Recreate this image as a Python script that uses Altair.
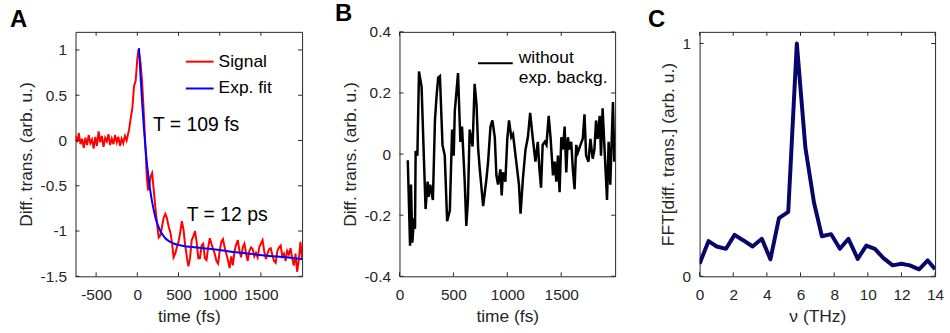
import altair as alt
import pandas as pd

FONT = "Liberation Sans"
AX = "#262626"

# ---------------- Panel A data ----------------
sig_t = [
    -750, -730, -710, -690, -670, -650, -630, -610, -590, -570,
    -550, -530, -510, -490, -470, -450, -430, -410, -390, -370,
    -350, -330, -310, -290, -270, -250, -230, -210, -190, -170,
    -150, -130,
    -100, -80, -60, -40, -20, 0, 15, 40, 60, 80, 100, 115, 130, 145, 160, 180,
    200, 220, 240, 260, 280, 300, 320, 340, 360, 380,
    400, 420, 440, 460, 480, 500, 520, 540, 560, 580,
    600, 620, 640, 660, 680, 700, 720, 740, 760, 780,
    800, 820, 840, 860, 880, 900, 920, 940, 960, 980,
    1000, 1020, 1040, 1060, 1080, 1100, 1120, 1140, 1160, 1180,
    1200, 1220, 1240, 1260, 1280, 1300, 1320, 1340, 1360, 1380,
    1400, 1420, 1440, 1460, 1480, 1500, 1520, 1540, 1560, 1580,
    1600, 1620, 1640, 1660, 1680, 1700, 1720, 1740, 1760, 1780,
    1800, 1820, 1840, 1860, 1880, 1900, 1920, 1940, 1960, 1980,
    2000,
]
sig_v = [
    0.05, -0.02, 0.08, -0.04, 0.02, -0.08, 0.03, -0.05, 0.06, -0.03,
    0.01, -0.09, 0.04, -0.06, 0.10, -0.02, 0.05, -0.07, 0.03, -0.01,
    0.07, -0.05, 0.02, -0.04, 0.06, -0.02, 0.04, -0.06, 0.02, -0.03,
    0.05, 0.00,
    0.12, 0.25, 0.36, 0.60, 0.66, 0.90, 1.01, 0.85, 0.62, 0.28, -0.10, -0.40, -0.55, -0.50, -0.40, -0.36,
    -0.55, -0.75, -0.92, -1.07, -1.05, -0.95, -0.85, -0.81, -0.86, -0.95,
    -1.01, -1.12, -1.29, -1.25, -1.18, -1.12, -1.02, -0.89, -0.98, -1.15,
    -1.28, -1.39, -1.30, -1.10, -1.06, -1.00, -1.12, -1.30, -1.30, -1.16,
    -1.14, -1.30, -1.32, -1.18, -1.08, -1.14, -1.20, -1.25, -1.33, -1.36,
    -1.22, -1.12, -1.09, -1.18, -1.25, -1.32, -1.41, -1.28, -1.38, -1.22,
    -1.15, -1.10, -1.22, -1.29, -1.18, -1.14, -1.25, -1.33, -1.22, -1.18,
    -1.20, -1.28, -1.24, -1.29, -1.18, -1.14, -1.10, -1.22, -1.31, -1.25,
    -1.20, -1.19, -1.27, -1.33, -1.35, -1.22, -1.18, -1.16, -1.28, -1.25,
    -1.33, -1.22, -1.26, -1.19, -1.30, -1.38, -1.25, -1.45, -1.32, -1.12,
    -1.30,
]
fit_t = [20, 40, 60, 80, 100, 120, 140, 160, 180, 200, 220, 240, 270, 300,
         340, 400, 450, 500, 600, 700, 800, 1000, 1200, 1400, 1600, 1800, 2000]
fit_v = [1.02, 0.70, 0.40, 0.14, -0.09, -0.28, -0.44, -0.57, -0.68, -0.77,
         -0.85, -0.91, -0.98, -1.03, -1.08, -1.12, -1.14, -1.155, -1.17,
         -1.18, -1.19, -1.21, -1.235, -1.255, -1.275, -1.29, -1.31]
ann_t = [190, 600]
ann_v = [0.17, -0.82]
ann_text = ["T = 109 fs", "T = 12 ps"]

# ---------------- Panel B data ----------------
b_t = [77, 98, 107, 119, 135, 144, 150, 166, 181, 205,
       242, 261, 270, 285, 310, 329, 344, 359, 375, 399,
       420, 442, 467, 488, 503, 513, 543, 565, 580, 605,
       620, 635, 651, 678, 697, 715, 730, 745, 776, 807,
       822, 844, 862, 884, 899, 914, 936, 948, 960, 982,
       1000, 1016, 1037, 1053, 1083, 1108, 1123, 1145, 1169, 1191,
       1212, 1237, 1261, 1283, 1298, 1313, 1328, 1347, 1363, 1384,
       1402, 1424, 1440, 1455, 1470, 1485, 1501, 1516, 1532, 1547,
       1562, 1578, 1593, 1608, 1624, 1639, 1654, 1679, 1700, 1716,
       1731, 1753, 1771, 1792, 1808, 1823, 1838, 1857, 1869, 1884,
       1900, 1925, 1940, 1955, 1967, 1980, 1993]
b_v = [-0.02, -0.30, -0.10, -0.29, -0.21, -0.245, 0.01, -0.005, 0.27, 0.22,
       -0.18, -0.09, -0.14, -0.10, -0.15, 0.11, 0.19, 0.25, 0.255, 0.03,
       -0.005, -0.22, -0.185, 0.08, -0.005, 0.14, 0.265, 0.04, 0.09, -0.09,
       -0.235, -0.15, 0.08, 0.025, 0.23, 0.16, 0.016, -0.05, -0.17, -0.08,
       -0.025, 0.09, 0.11, 0.055, -0.07, -0.10, -0.05, -0.135, -0.06, -0.09,
       0.05, 0.11, 0.055, 0.065, -0.025, -0.10, -0.195, -0.08, 0.015, 0.055,
       0.135, 0.05, -0.025, 0.04, -0.05, -0.11, 0.03, 0.04, 0.03, 0.125,
       0.05, -0.07, -0.025, -0.09, -0.005, -0.125, 0.055, 0.015, 0.09, -0.06,
       0.055, 0.015, 0.04, -0.05, -0.115, 0.03, 0.005, 0.03, 0.05, 0.13,
       -0.005, -0.025, 0.05, -0.015, 0.015, 0.11, 0.05, 0.125, -0.005, 0.15,
       0.03, -0.15, 0.04, -0.10, 0.03, 0.17, -0.025]

# ---------------- Panel C data ----------------
c_f = [0, 0.53, 1.02, 1.57, 2.08, 2.61, 3.15, 3.70, 4.21, 4.72, 5.27, 5.78,
       6.29, 6.80, 7.27, 7.82, 8.34, 8.85, 9.40, 9.91, 10.42, 10.93, 11.48,
       11.99, 12.50, 13.05, 13.56, 14.0]
c_a = [0.054, 0.151, 0.128, 0.118, 0.178, 0.154, 0.128, 0.161, 0.073, 0.25,
       0.277, 1.0, 0.552, 0.317, 0.172, 0.181, 0.118, 0.161, 0.075, 0.132,
       0.118, 0.078, 0.047, 0.054, 0.047, 0.030, 0.068, 0.030]

# tick labels
xa_ticks = [-500, 0, 500, 1000, 1500]
ya_ticks = [-1.5, -1, -0.5, 0, 0.5, 1]
xb_ticks = [0, 500, 1000, 1500]
yb_ticks = [-0.4, -0.2, 0, 0.2, 0.4]
xc_ticks = [0, 2, 4, 6, 8, 10, 12, 14]
yc_ticks = [0, 1]

H = 246
WA, WB, WC = 228, 217, 237
TL = 4
LABEL_EXPR = "datum.value < 0 ? '-' + format(-datum.value, '~g') : format(datum.value, '~g')"


def axis(values, title, pad, tpad):
    return alt.Axis(values=values, title=title, ticks=False, domain=False,
                    grid=False, labelExpr=LABEL_EXPR, labelPadding=pad,
                    titlePadding=tpad, labelFont=FONT, labelFontSize=15.5,
                    labelColor=AX, titleFont=FONT, titleFontSize=17.5,
                    titleFontWeight="normal", titleColor=AX,
                    labelFlush=False, labelOverlap=False)


def inner_ticks(xs, ys, xax, yax, xt, yt, W):
    dfx = pd.DataFrame({"v": xt})
    dfy = pd.DataFrame({"v": yt})
    out = []
    for y0, y1 in [(H, H - TL), (0, TL)]:
        out.append(alt.Chart(dfx).mark_rule(color=AX, strokeWidth=1).encode(
            x=alt.X("v:Q", scale=xs, axis=xax),
            y=alt.value(y0), y2=alt.value(y1)))
    for x0, x1 in [(0, TL), (W, W - TL)]:
        out.append(alt.Chart(dfy).mark_rule(color=AX, strokeWidth=1).encode(
            y=alt.Y("v:Q", scale=ys, axis=yax),
            x=alt.value(x0), x2=alt.value(x1)))
    return out


def letter(t, dx):
    return alt.TitleParams(text=t, anchor="start", frame="group", dx=dx,
                           offset=7, dy=27, baseline="alphabetic", font=FONT,
                           fontSize=24, fontWeight="bold", color="black")


# ---------- Panel A ----------
xsA = alt.Scale(domain=[-750, 2000], nice=False, zero=False)
ysA = alt.Scale(domain=[-1.5, 1.2], nice=False, zero=False)
xaxA = axis(xa_ticks, "time (fs)", 11, 5)
yaxA = axis(ya_ticks, "Diff. trans. (arb. u.)", 9, 5)
colA = alt.Scale(domain=["Signal", "Exp. fit"], range=["#ff0000", "#0000ff"])

sig_df = pd.DataFrame({"t": sig_t, "v": sig_v, "s": "Signal"})
fit_df = pd.DataFrame({"t": fit_t, "v": fit_v, "s": "Exp. fit"})
ann_df = pd.DataFrame({"t": ann_t, "v": ann_v, "label": ann_text})

legA = alt.Legend(orient="none", legendX=110, legendY=15, title=None,
                  symbolType="stroke", symbolSize=784, symbolStrokeWidth=2,
                  labelFont=FONT, labelFontSize=17.5, labelColor="black",
                  rowPadding=3, labelOffset=4, padding=0)

sigA = alt.Chart(sig_df).mark_line(strokeWidth=2, clip=True).encode(
    x=alt.X("t:Q", scale=xsA, axis=xaxA),
    y=alt.Y("v:Q", scale=ysA, axis=yaxA),
    color=alt.Color("s:N", scale=colA, legend=legA),
)
fitA = alt.Chart(fit_df).mark_line(strokeWidth=2, clip=True, interpolate="monotone").encode(
    x=alt.X("t:Q", scale=xsA, axis=xaxA),
    y=alt.Y("v:Q", scale=ysA, axis=yaxA),
    color=alt.Color("s:N", scale=colA, legend=legA),
)
annA = alt.Chart(ann_df).mark_text(align="left", baseline="middle", font=FONT,
                                   fontSize=19.5, color="black").encode(
    x=alt.X("t:Q", scale=xsA, axis=xaxA),
    y=alt.Y("v:Q", scale=ysA, axis=yaxA),
    text="label:N",
)
A = alt.layer(sigA, fitA, annA,
              *inner_ticks(xsA, ysA, xaxA, yaxA, xa_ticks, ya_ticks, WA)).properties(
    width=WA, height=H, title=letter("A", -66))

# ---------- Panel B ----------
xsB = alt.Scale(domain=[0, 2000], nice=False, zero=False)
ysB = alt.Scale(domain=[-0.4, 0.4], nice=False, zero=False)
xaxB = axis(xb_ticks, "time (fs)", 11, 5)
yaxB = axis(yb_ticks, "Diff. trans. (arb. u.)", 9, 5)
b_df = pd.DataFrame({"t": b_t, "v": b_v, "s": "without exp. backg."})
legB = alt.Legend(orient="none", legendX=78, legendY=13, title=None,
                  symbolType="stroke", symbolSize=1225, symbolStrokeWidth=2,
                  labelFont=FONT, labelFontSize=17.5, labelColor="black",
                  labelExpr="['without', 'exp. backg.']", labelLimit=300,
                  labelBaseline="alphabetic", labelOffset=5, padding=0)
lineB = alt.Chart(b_df).mark_line(strokeWidth=2.5, clip=True).encode(
    x=alt.X("t:Q", scale=xsB, axis=xaxB),
    y=alt.Y("v:Q", scale=ysB, axis=yaxB),
    color=alt.Color("s:N", scale=alt.Scale(domain=["without exp. backg."], range=["#000000"]), legend=legB),
)
B = alt.layer(lineB, *inner_ticks(xsB, ysB, xaxB, yaxB, xb_ticks, yb_ticks, WB)).properties(
    width=WB, height=H, title=letter("B", -65))

# ---------- Panel C ----------
xsC = alt.Scale(domain=[0, 14], nice=False, zero=False)
ysC = alt.Scale(domain=[0, 1.05], nice=False, zero=False)
xaxC = axis(xc_ticks, "ν (THz)", 11, 5)
yaxC = axis(yc_ticks, "FFT[diff. trans.] (arb. u.)", 9, 5)
c_df = pd.DataFrame({"f": c_f, "a": c_a})
lineC = alt.Chart(c_df).mark_line(strokeWidth=4, clip=True, color="#07076b",
                                  strokeJoin="round").encode(
    x=alt.X("f:Q", scale=xsC, axis=xaxC),
    y=alt.Y("a:Q", scale=ysC, axis=yaxC),
)
C = alt.layer(lineC, *inner_ticks(xsC, ysC, xaxC, yaxC, xc_ticks, yc_ticks, WC)).properties(
    width=WC, height=H, title=letter("C", -52))

chart = alt.hconcat(A, B, C, spacing=31).properties(
    padding={"left": 9, "top": 0, "right": 5, "bottom": 5},
).configure_view(stroke=AX, strokeWidth=1).resolve_scale(color="independent")

chart.save("out.html", embed_options={"renderer": "svg", "actions": False})
